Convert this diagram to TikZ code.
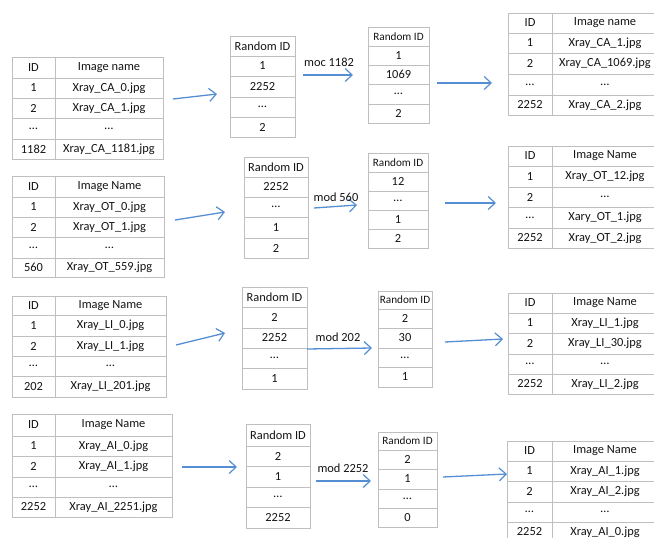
\documentclass[tikz,border=0pt]{standalone}
\usepackage{fontspec}
\setmainfont{Carlito}
\usetikzlibrary{arrows.meta}
\definecolor{gridgray}{RGB}{191,191,191}
\definecolor{flowblue}{RGB}{86,142,212}
\definecolor{ink}{RGB}{20,20,20}
\tikzset{
  cell/.style={draw=gridgray, line width=0.8pt, inner sep=0pt, outer sep=0pt,
    text=ink, font=\fontsize{12.4}{14}\selectfont, anchor=center},
  flow/.style={draw=flowblue, line width=1.3pt,
    -{Straight Barb[length=7pt,width=13pt,line width=1.2pt]}},
  modlbl/.style={text=ink, font=\fontsize{12.4}{14}\selectfont, inner sep=0pt}
}
% two-column table: name, left x, split x, right x, rows {top/bottom/id/file}
\newcommand\idtable[5]{%
  \foreach \ya/\yb/\ca/\cb [count=\k] in {#5}{
    \pgfmathsetmacro\hh{\yb-\ya}
    \pgfmathsetmacro\wa{#3-#2}
    \pgfmathsetmacro\wb{#4-#3}
    \node[cell, minimum width=\wa pt, minimum height=\hh pt] (#1-\k-a)
      at ({(#2+#3)/2},{(\ya+\yb)/2}) {\ca};
    \node[cell, minimum width=\wb pt, minimum height=\hh pt] (#1-\k-b)
      at ({(#3+#4)/2},{(\ya+\yb)/2}) {\cb};
  }%
}
% one-column table: name, left x, right x, rows {top/bottom/value}
\newcommand\randtable[4]{%
  \foreach \ya/\yb/\ca [count=\k] in {#4}{
    \pgfmathsetmacro\hh{\yb-\ya}
    \pgfmathsetmacro\wa{#3-#2}
    \node[cell, minimum width=\wa pt, minimum height=\hh pt] (#1-\k)
      at ({(#2+#3)/2},{(\ya+\yb)/2}) {\ca};
  }%
}
\newcommand\narrowhead{{\fontsize{11.2}{13}\selectfont Random ID}}
\begin{document}
\begin{tikzpicture}[x=1pt, y=-1pt]
\fill[white] (0,0) rectangle (654,538);
\useasboundingbox (0,0) rectangle (654,538);

% ---------- CA ----------
\idtable{ca}{12}{55}{163}{57/78/ID/Image name, 78/98/1/Xray\_CA\_0.jpg,
  98/118/2/Xray\_CA\_1.jpg, 118/139/…/…, 139/159/1182/Xray\_CA\_1181.jpg}
\randtable{car}{230}{295}{36/56/Random ID, 56/76/1, 76/97/2252, 97/117/…, 117/137/2}
\randtable{cam}{368}{429}{27/46/\narrowhead, 46/65/1,
  65/84/1069, 84/104/…, 104/123/2}
\idtable{cao}{508}{552}{658}{13/33/ID/Image name, 33/53/1/Xray\_CA\_1.jpg,
  53/74/2/Xray\_CA\_1069.jpg, 74/95/…/…, 95/115/2252/Xray\_CA\_2.jpg}
\coordinate (ca1s) at (173,99);  \coordinate (ca1e) at (217,94);
\coordinate (ca2s) at (303,75);  \coordinate (ca2e) at (353,75);
\coordinate (ca3s) at (437,83);  \coordinate (ca3e) at (492,83);
\draw[flow] (ca1s) -- (ca1e);
\draw[flow] (ca2s) -- (ca2e);
\draw[flow] (ca3s) -- (ca3e);
\node[modlbl] (camod) at (329,62) {moc 1182};

% ---------- OT ----------
\idtable{ot}{12}{55}{164}{176/197/ID/Image Name, 197/217/1/Xray\_OT\_0.jpg,
  217/237/2/Xray\_OT\_1.jpg, 237/258/…/…, 258/277/560/Xray\_OT\_559.jpg}
\randtable{otr}{244}{308}{157/177/Random ID, 177/197/2252, 197/217/…, 217/238/1, 238/258/2}
\randtable{otm}{368}{428}{153/172/\narrowhead, 172/191/12,
  191/210/…, 210/229/1, 229/248/2}
\idtable{oto}{508}{552}{658}{146/166/ID/Image Name, 166/187/1/Xray\_OT\_12.jpg,
  187/207/2/…, 207/228/…/Xary\_OT\_1.jpg, 228/248/2252/Xray\_OT\_2.jpg}
\coordinate (ot1s) at (175,220); \coordinate (ot1e) at (225,212);
\coordinate (ot2s) at (314,208); \coordinate (ot2e) at (357,205);
\coordinate (ot3s) at (445,203); \coordinate (ot3e) at (496,203);
\draw[flow] (ot1s) -- (ot1e);
\draw[flow] (ot2s) -- (ot2e);
\draw[flow] (ot3s) -- (ot3e);
\node[modlbl] (otmod) at (336,197) {mod 560};

% ---------- LI ----------
\idtable{li}{12}{55}{166}{296/315/ID/Image Name, 315/336/1/Xray\_LI\_0.jpg,
  336/356/2/Xray\_LI\_1.jpg, 356/376/…/…, 376/397/202/Xray\_LI\_201.jpg}
\randtable{lir}{242}{307}{287/307/Random ID, 307/328/2, 328/348/2252, 348/368/…, 368/389/1}
\randtable{lim}{378}{432}{291/309/\narrowhead, 309/328/2,
  328/348/30, 348/367/…, 367/387/1}
\idtable{lio}{508}{552}{658}{293/313/ID/Image Name, 313/333/1/Xray\_LI\_1.jpg,
  333/354/2/Xray\_LI\_30.jpg, 354/374/…/…, 374/394/2252/Xray\_LI\_2.jpg}
\coordinate (li1s) at (176,345); \coordinate (li1e) at (225,333);
\coordinate (li2s) at (307,349); \coordinate (li2e) at (372,348);
\coordinate (li3s) at (445,342); \coordinate (li3e) at (503,339);
\draw[flow] (li1s) -- (li1e);
\draw[flow] (li2s) -- (li2e);
\draw[flow] (li3s) -- (li3e);
\node[modlbl] (limod) at (338,337) {mod 202};

% ---------- AI ----------
\idtable{ai}{12}{55}{172}{414/436/ID/Image Name, 436/456/1/Xray\_AI\_0.jpg,
  456/477/2/Xray\_AI\_1.jpg, 477/497/…/…, 497/517/2252/Xray\_AI\_2251.jpg}
\randtable{air}{246}{310}{424/446/Random ID, 446/466/2, 466/487/1, 487/507/…, 507/528/2252}
\randtable{aim}{378}{437}{432/450/\narrowhead, 450/469/2,
  469/489/1, 489/508/…, 508/527/0}
\idtable{aio}{507}{552}{658}{441/461/ID/Image Name, 461/481/1/Xray\_AI\_1.jpg,
  481/502/2/Xray\_AI\_2.jpg, 502/522/…/…, 522/542/2252/Xray\_AI\_0.jpg}
\coordinate (ai1s) at (182,467); \coordinate (ai1e) at (237,467);
\coordinate (ai2s) at (316,481); \coordinate (ai2e) at (371,481);
\coordinate (ai3s) at (443,477); \coordinate (ai3e) at (507,474);
\draw[flow] (ai1s) -- (ai1e);
\draw[flow] (ai2s) -- (ai2e);
\draw[flow] (ai3s) -- (ai3e);
\node[modlbl] (aimod) at (343,468) {mod 2252};
\end{tikzpicture}
\end{document}
